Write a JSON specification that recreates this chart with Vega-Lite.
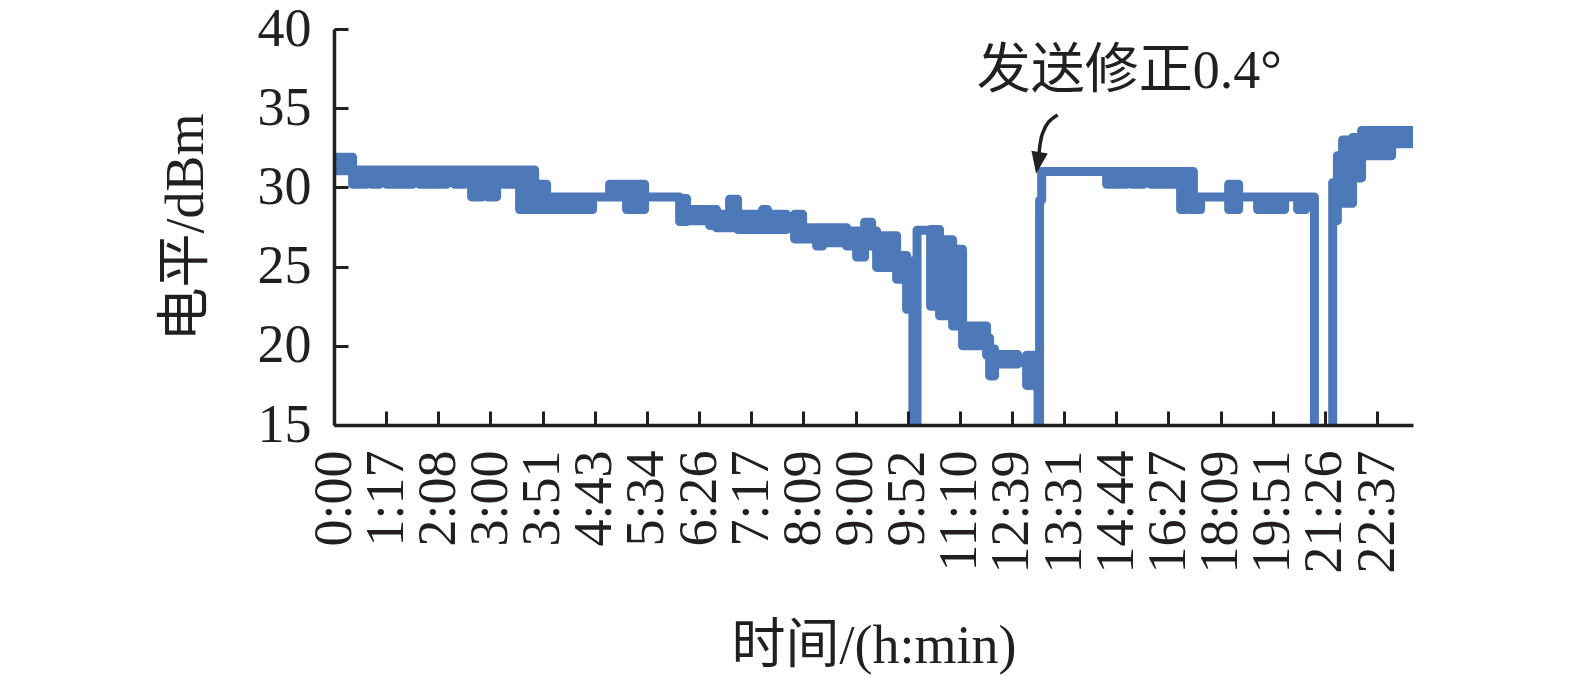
{
  "$schema": "https://vega.github.io/schema/vega-lite/v6.json",
  "width": 1079,
  "height": 396,
  "autosize": {"type": "none"},
  "padding": {"left": 334, "top": 29, "right": 162, "bottom": 251},
  "background": "white",
  "config": {"view": {"stroke": null}, "font": "Liberation Serif"},
  "datasets": {
    "signal": [
      {"t": 0, "lo": 31.05, "hi": 31.9},
      {"t": 0.357, "lo": 30.2, "hi": 31.1},
      {"t": 0.625, "lo": 31.05, "hi": 31.1},
      {"t": 0.721, "lo": 30.2, "hi": 31.1},
      {"t": 0.874, "lo": 31.05, "hi": 31.1},
      {"t": 1.009, "lo": 30.2, "hi": 31.1},
      {"t": 1.507, "lo": 31.05, "hi": 31.1},
      {"t": 1.641, "lo": 30.2, "hi": 31.1},
      {"t": 2.159, "lo": 31.05, "hi": 31.1},
      {"t": 2.312, "lo": 30.2, "hi": 31.1},
      {"t": 2.504, "lo": 31.05, "hi": 31.1},
      {"t": 2.638, "lo": 29.4, "hi": 31.1},
      {"t": 2.849, "lo": 30.2, "hi": 31.1},
      {"t": 2.945, "lo": 29.4, "hi": 31.1},
      {"t": 3.118, "lo": 30.2, "hi": 31.1},
      {"t": 3.559, "lo": 28.6, "hi": 31.1},
      {"t": 3.847, "lo": 28.6, "hi": 30.2},
      {"t": 4.077, "lo": 28.6, "hi": 29.4},
      {"t": 4.959, "lo": 29.4, "hi": 29.4},
      {"t": 5.285, "lo": 29.4, "hi": 30.2},
      {"t": 5.611, "lo": 28.6, "hi": 30.2},
      {"t": 5.956, "lo": 29.4, "hi": 29.4},
      {"t": 6.627, "lo": 27.85, "hi": 29.3},
      {"t": 6.761, "lo": 27.9, "hi": 28.6},
      {"t": 7.202, "lo": 27.6, "hi": 28.6},
      {"t": 7.336, "lo": 27.45, "hi": 28.3},
      {"t": 7.585, "lo": 27.45, "hi": 29.25},
      {"t": 7.739, "lo": 27.35, "hi": 28.3},
      {"t": 8.218, "lo": 27.35, "hi": 28.6},
      {"t": 8.314, "lo": 27.35, "hi": 28.3},
      {"t": 8.679, "lo": 27.4, "hi": 27.45},
      {"t": 8.832, "lo": 26.75, "hi": 28.3},
      {"t": 8.986, "lo": 26.75, "hi": 27.45},
      {"t": 9.254, "lo": 26.3, "hi": 27.45},
      {"t": 9.369, "lo": 26.5, "hi": 27.45},
      {"t": 9.83, "lo": 26.3, "hi": 27.25},
      {"t": 10.021, "lo": 25.6, "hi": 27.25},
      {"t": 10.175, "lo": 26.3, "hi": 27.8},
      {"t": 10.309, "lo": 26.3, "hi": 27.25},
      {"t": 10.405, "lo": 24.95, "hi": 26.95},
      {"t": 10.789, "lo": 24.2, "hi": 25.7},
      {"t": 10.98, "lo": 22.3, "hi": 25.35},
      {"t": 11.1, "lo": 14, "hi": 25.35},
      {"t": 11.18, "lo": 27.3, "hi": 27.3},
      {"t": 11.44, "lo": 22.5, "hi": 27.35},
      {"t": 11.612, "lo": 21.9, "hi": 26.7},
      {"t": 11.862, "lo": 21.25, "hi": 26.1},
      {"t": 12.053, "lo": 20.0, "hi": 21.25},
      {"t": 12.514, "lo": 19.4, "hi": 20.5},
      {"t": 12.572, "lo": 18.1, "hi": 19.8},
      {"t": 12.667, "lo": 18.85, "hi": 19.45},
      {"t": 13.108, "lo": 18.95, "hi": 19.05},
      {"t": 13.281, "lo": 17.5, "hi": 19.4},
      {"t": 13.5, "lo": 14, "hi": 19.0},
      {"t": 13.53, "lo": 29.2, "hi": 29.2},
      {"t": 13.57, "lo": 31.0, "hi": 31.0},
      {"t": 14.815, "lo": 30.2, "hi": 31.0},
      {"t": 15.199, "lo": 31.0, "hi": 31.0},
      {"t": 15.295, "lo": 30.2, "hi": 31.0},
      {"t": 15.525, "lo": 31.0, "hi": 31.0},
      {"t": 15.659, "lo": 30.2, "hi": 31.0},
      {"t": 16.234, "lo": 28.6, "hi": 31.0},
      {"t": 16.35, "lo": 29.4, "hi": 31.0},
      {"t": 16.42, "lo": 28.6, "hi": 31.0},
      {"t": 16.48, "lo": 28.6, "hi": 29.4},
      {"t": 16.618, "lo": 29.4, "hi": 29.4},
      {"t": 17.155, "lo": 28.6, "hi": 30.2},
      {"t": 17.347, "lo": 29.4, "hi": 29.4},
      {"t": 17.711, "lo": 28.6, "hi": 29.4},
      {"t": 18.229, "lo": 29.4, "hi": 29.4},
      {"t": 18.478, "lo": 28.6, "hi": 29.4},
      {"t": 18.631, "lo": 29.4, "hi": 29.4},
      {"t": 18.8, "lo": 14, "hi": 14},
      {"t": 19.15, "lo": 27.9, "hi": 30.3},
      {"t": 19.24, "lo": 29.05, "hi": 32.0},
      {"t": 19.34, "lo": 29.0, "hi": 33.0},
      {"t": 19.532, "lo": 30.6, "hi": 33.15},
      {"t": 19.704, "lo": 32.0, "hi": 33.6},
      {"t": 20.28, "lo": 32.75, "hi": 33.6},
      {"t": 20.75, "lo": 32.75, "hi": 33.6}
    ],
    "arrow": [
      {"k": 0, "t": 13.876, "v": 34.57},
      {"k": 1, "t": 13.703, "v": 34.13},
      {"k": 2, "t": 13.588, "v": 33.43},
      {"k": 3, "t": 13.54, "v": 32.74},
      {"k": 4, "t": 13.521, "v": 32.17}
    ],
    "head": [{"t": 13.497, "v": 31.54}],
    "note": [{"t": 12.327, "v": 36.28, "label": "发送修正0.4°"}]
  },
  "layer": [
    {
      "data": {"name": "signal"},
      "mark": {
        "type": "area",
        "interpolate": "step-after",
        "fill": "#4e79b9",
        "stroke": "#4e79b9",
        "strokeWidth": 9,
        "strokeJoin": "round",
        "strokeCap": "round",
        "opacity": 1,
        "fillOpacity": 1,
        "clip": true
      },
      "encoding": {
        "x": {
          "field": "t",
          "type": "quantitative",
          "scale": {"domain": [0, 20.69], "nice": false, "zero": false},
          "axis": {
            "title": "时间/(h:min)",
            "values": [0, 1, 2, 3, 4, 5, 6, 7, 8, 9, 10, 11, 12, 13, 14, 15, 16, 17, 18, 19, 20],
            "labelExpr": "['0:00','1:17','2:08','3:00','3:51','4:43','5:34','6:26','7:17','8:09','9:00','9:52','11:10','12:39','13:31','14:44','16:27','18:09','19:51','21:26','22:37'][datum.value]",
            "grid": false,
            "labelAngle": -90,
            "labelAlign": "right",
            "labelBaseline": "middle",
            "labelOverlap": false,
            "labelFlush": false,
            "labelBound": false,
            "labelFont": "Liberation Serif",
            "labelFontSize": 54,
            "labelColor": "#231f20",
            "labelPadding": 39,
            "tickSize": -14,
            "tickWidth": 3,
            "tickColor": "#231f20",
            "domainColor": "#231f20",
            "domainWidth": 3.5,
            "titleFont": "Liberation Serif, Noto Sans CJK SC",
            "titleFontSize": 54,
            "titleFontWeight": "normal",
            "titleColor": "#231f20",
            "titleY": 237,
            "titleBaseline": "alphabetic",
            "zindex": 1
          }
        },
        "y": {
          "field": "hi",
          "type": "quantitative",
          "scale": {"domain": [15, 40], "nice": false, "zero": false},
          "axis": {
            "title": "电平/dBm",
            "values": [15, 20, 25, 30, 35, 40],
            "grid": false,
            "labelFlush": false,
            "labelOverlap": false,
            "labelFont": "Liberation Serif",
            "labelFontSize": 54,
            "labelColor": "#231f20",
            "labelPadding": 37,
            "tickSize": -14,
            "tickWidth": 3,
            "tickColor": "#231f20",
            "domainColor": "#231f20",
            "domainWidth": 3.5,
            "titleFont": "Liberation Serif, Noto Sans CJK SC",
            "titleFontSize": 54,
            "titleFontWeight": "normal",
            "titleColor": "#231f20",
            "titleX": -148,
            "titleY": 198,
            "titleAngle": -90,
            "titleAlign": "center",
            "titleBaseline": "middle",
            "zindex": 1
          }
        },
        "y2": {"field": "lo"}
      }
    },
    {
      "data": {"name": "arrow"},
      "mark": {"type": "line", "interpolate": "cardinal", "color": "#231f20", "strokeWidth": 3.5},
      "encoding": {
        "x": {"field": "t", "type": "quantitative"},
        "y": {"field": "v", "type": "quantitative"},
        "order": {"field": "k"}
      }
    },
    {
      "data": {"name": "head"},
      "mark": {
        "type": "point",
        "shape": "M-0.75,-1L0.75,-1L0,1Z",
        "size": 484,
        "angle": 9,
        "filled": true,
        "color": "#231f20",
        "opacity": 1
      },
      "encoding": {
        "x": {"field": "t", "type": "quantitative"},
        "y": {"field": "v", "type": "quantitative"}
      }
    },
    {
      "data": {"name": "note"},
      "mark": {
        "type": "text",
        "align": "left",
        "baseline": "alphabetic",
        "font": "Liberation Serif, Noto Sans CJK SC",
        "fontSize": 54,
        "color": "#231f20"
      },
      "encoding": {
        "x": {"field": "t", "type": "quantitative"},
        "y": {"field": "v", "type": "quantitative"},
        "text": {"field": "label"}
      }
    }
  ]
}
